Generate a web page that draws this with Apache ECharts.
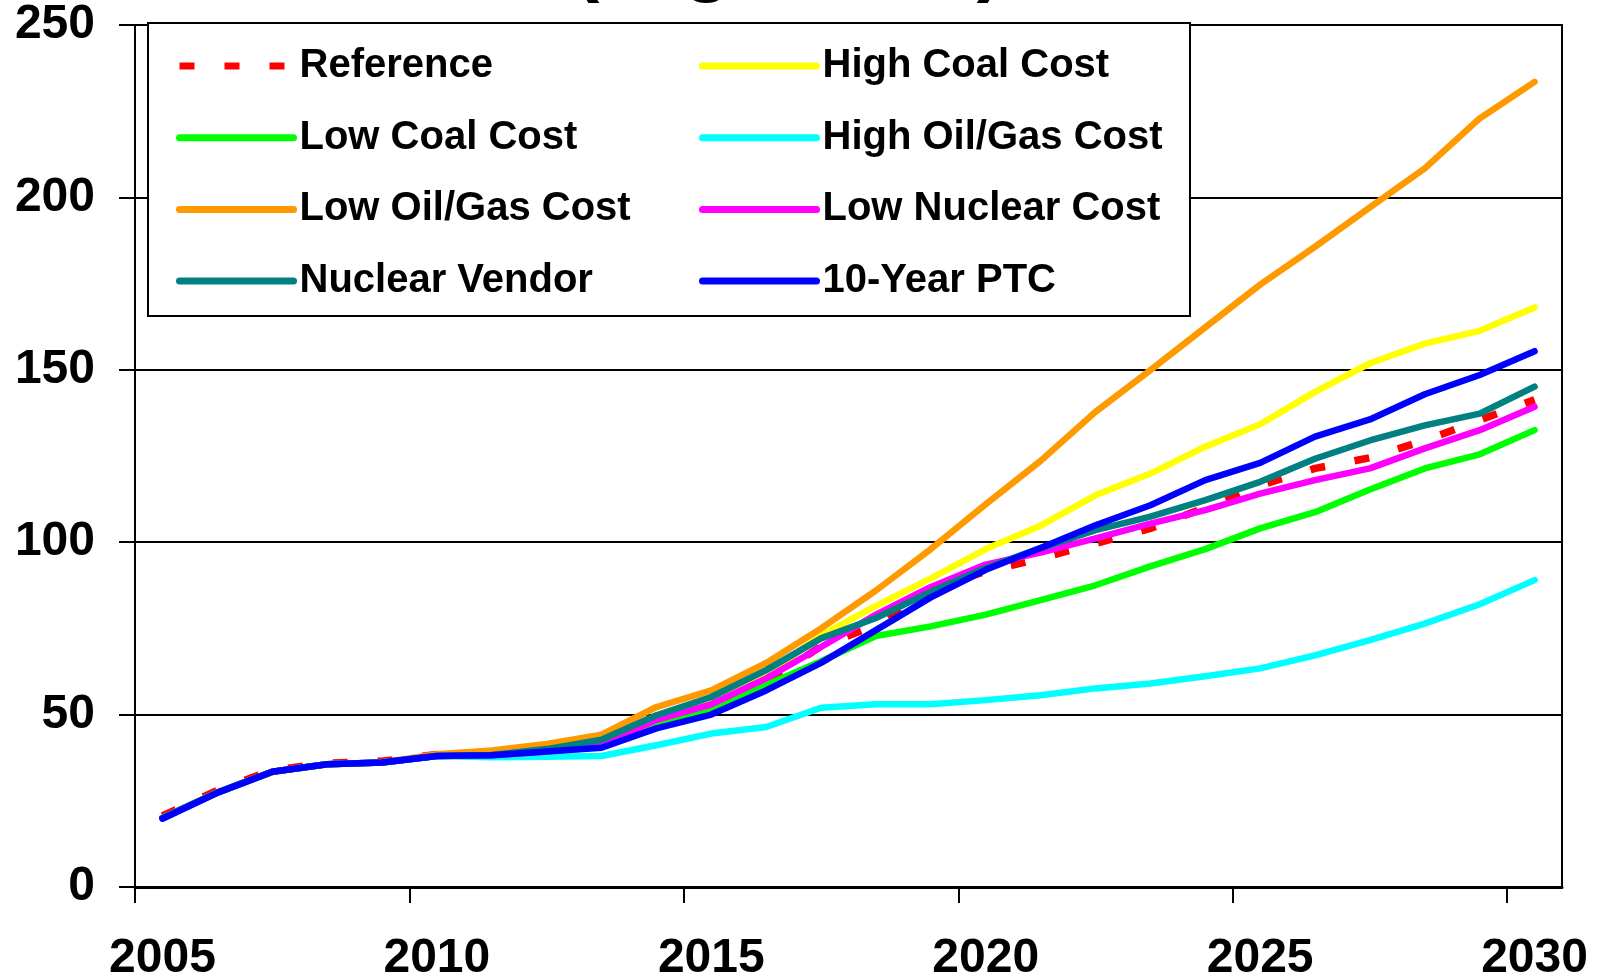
<!DOCTYPE html>
<html>
	<head>
		<meta charset="utf-8">
		<title>Scenarios</title>
		<script src="https://cdn.jsdelivr.net/npm/echarts@6/dist/echarts.min.js"></script>
		<style>
			body { margin: 0; background: #fff; }
			#mainCharts { width: 1605px; height: 979px; }
		</style>
	</head>
	<body>
		<div id="mainCharts"></div>
<script type="text/javascript">
	// categories and series values
	var years = ['2005','2006','2007','2008','2009','2010','2011','2012','2013','2014','2015','2016','2017',
		'2018','2019','2020','2021','2022','2023','2024','2025','2026','2027','2028','2029','2030'];
	var yTicks = [0, 50, 100, 150, 200, 250];
	var xTickYears = [2005, 2010, 2015, 2020, 2025, 2030];

	var reference     = [20.6, 28.0, 33.9, 35.9, 36.5, 38.4, 38.3, 39.4, 41.0, 47.5, 52.0, 59.5, 69.8, 76.0, 86.5, 91.5, 95.3, 99.6, 104.0, 110.0, 116.5, 121.4, 124.5, 129.5, 135.4, 141.3];
	var highCoal      = [20.0, 27.4, 33.4, 35.6, 36.1, 38.0, 38.2, 39.3, 41.5, 48.5, 53.5, 61.5, 73.0, 81.5, 89.5, 98.0, 104.8, 113.6, 119.9, 127.7, 134.2, 143.6, 151.9, 157.6, 161.3, 168.1];
	var lowCoal       = [20.0, 27.4, 33.4, 35.6, 36.1, 38.0, 38.2, 39.2, 41.0, 47.5, 51.5, 58.6, 65.5, 72.8, 75.6, 79.0, 83.2, 87.5, 93.0, 98.0, 104.0, 108.7, 115.3, 121.4, 125.5, 132.5];
	var highOilGas    = [20.0, 27.4, 33.4, 35.6, 36.1, 38.0, 37.6, 37.8, 38.0, 41.1, 44.5, 46.4, 52.0, 53.0, 53.0, 54.2, 55.6, 57.6, 59.0, 61.1, 63.4, 67.2, 71.6, 76.4, 82.0, 89.0];
	var lowOilGas     = [20.0, 27.4, 33.4, 35.6, 36.1, 38.5, 39.6, 41.5, 44.2, 52.2, 57.0, 65.0, 75.0, 86.0, 98.0, 111.0, 123.6, 137.8, 149.9, 162.3, 174.7, 185.7, 197.1, 208.4, 222.9, 233.5];
	var lowNuclear    = [20.0, 27.4, 33.4, 35.6, 36.1, 38.0, 38.2, 39.3, 41.3, 48.5, 53.0, 60.5, 69.6, 79.0, 87.0, 93.5, 97.0, 101.1, 105.4, 109.3, 114.1, 118.0, 121.4, 127.2, 132.5, 139.3];
	var nuclearVendor = [20.0, 27.4, 33.4, 35.6, 36.1, 38.0, 38.3, 40.0, 42.7, 49.8, 55.1, 62.9, 72.1, 78.0, 85.6, 92.5, 98.3, 103.5, 107.4, 112.2, 117.5, 124.2, 129.5, 133.9, 137.3, 145.1];
	var ptc10         = [19.8, 27.3, 33.4, 35.6, 36.1, 38.0, 38.2, 39.3, 40.4, 46.0, 50.0, 57.0, 65.0, 74.5, 84.0, 92.0, 98.3, 104.9, 110.7, 118.0, 123.0, 130.6, 135.6, 142.9, 148.5, 155.4];

	var fontName = '"Liberation Sans", Arial, sans-serif';

	function makeLine(name, data, color, width, dashed) {
		return {
			name: name,
			type: 'line',
			xAxisIndex: 0,
			data: data,
			symbol: 'none',
			smooth: false,
			animation: false,
			lineStyle: {
				color: color,
				width: width,
				type: dashed ? [15, 30] : 'solid',
				cap: dashed ? 'butt' : 'round',
				join: 'round'
			},
			itemStyle: { color: color }
		};
	}

	function makeLegend(left, names) {
		return {
			orient: 'vertical',
			left: left,
			top: 46,
			padding: 0,
			itemGap: 31.7,
			itemWidth: 114,
			itemHeight: 40,
			selectedMode: false,
			data: names,
			itemStyle: { opacity: 0 },   // hide the symbol dot, keep the line
			lineStyle: { width: 7 },
			textStyle: {
				fontFamily: fontName,
				fontWeight: 'bold',
				fontSize: 40,
				color: '#000',
				padding: [0, 0, 0, 1]
			}
		};
	}

	var myChart = echarts.init(document.getElementById('mainCharts'));
	myChart.setOption({
		backgroundColor: '#fff',
		animation: false,
		grid: {
			left: 135,
			right: 43,
			top: 25,
			bottom: 92,
			outerBoundsMode: 'none',
			show: true,
			borderColor: '#000',
			borderWidth: 2
		},
		legend: [
			makeLegend(176, ['Reference', 'Low Coal Cost', 'Low Oil/Gas Cost', 'Nuclear Vendor']),
			makeLegend(699, ['High Coal Cost', 'High Oil/Gas Cost', 'Low Nuclear Cost', '10-Year PTC'])
		],
		graphic: [
			{
				type: 'rect',
				z: 3,
				shape: { x: 148, y: 23, width: 1042, height: 293 },
				style: { fill: '#fff', stroke: '#000', lineWidth: 2 }
			},
			{
				// second title line, mostly cut off by the top edge
				type: 'text',
				z: 3,
				x: 573,
				y: -36,
				style: {
					text: '(Gigawatts)',
					font: 'bold 79px ' + fontName,
					fill: '#000',
					align: 'left',
					verticalAlign: 'middle'
				}
			}
		],
		xAxis: [
			{
				type: 'category',
				data: years,
				boundaryGap: true,
				axisLine: { show: true, lineStyle: { color: '#000', width: 3 } },
				axisTick: { show: false },
				axisLabel: {
					interval: 4,
					margin: 48,
					fontFamily: fontName,
					fontWeight: 'bold',
					fontSize: 48,
					color: '#000'
				},
				splitLine: { show: false }
			},
			{
				// tick marks only, on the year boundaries
				type: 'value',
				position: 'bottom',
				min: 2005,
				max: 2031,
				interval: 5,
				axisLine: { show: false },
				axisTick: { show: true, length: 16, customValues: xTickYears, lineStyle: { color: '#000', width: 2 } },
				axisLabel: { show: false },
				splitLine: { show: false }
			}
		],
		yAxis: {
			type: 'value',
			min: yTicks[0],
			max: yTicks[yTicks.length - 1],
			interval: 50,
			axisLine: { show: true, lineStyle: { color: '#000', width: 2 } },
			axisTick: { show: true, length: 16, lineStyle: { color: '#000', width: 2 } },
			axisLabel: {
				margin: 40,
				fontFamily: fontName,
				fontWeight: 'bold',
				fontSize: 48,
				color: '#000'
			},
			splitLine: { show: true, lineStyle: { color: '#000', width: 2 } }
		},
		series: [
			makeLine('Reference', reference, '#FF0000', 7.5, true),
			makeLine('High Coal Cost', highCoal, '#FFFF00', 6.5),
			makeLine('Low Coal Cost', lowCoal, '#00FF00', 6.5),
			makeLine('High Oil/Gas Cost', highOilGas, '#00FFFF', 6.5),
			makeLine('Low Oil/Gas Cost', lowOilGas, '#FF9900', 6.5),
			makeLine('Low Nuclear Cost', lowNuclear, '#FF00FF', 6.5),
			makeLine('Nuclear Vendor', nuclearVendor, '#008080', 6.5),
			makeLine('10-Year PTC', ptc10, '#0000FF', 6.5)
		]
	});
</script>
	</body>
</html>
